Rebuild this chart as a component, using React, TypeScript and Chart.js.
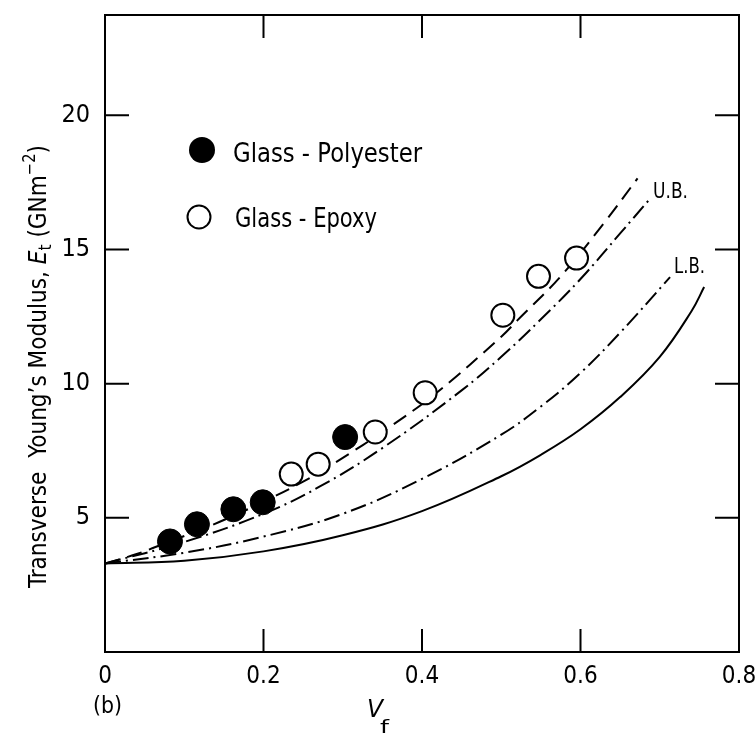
import React, { useEffect, useRef } from 'react';
import { Chart, registerables } from 'chart.js';

Chart.register(...registerables);

// ---- tick values / labels ----
const xTickValues = [0, 0.2, 0.4, 0.6, 0.8];
const xTickLabels = ['0', '0.2', '0.4', '0.6', '0.8'];
const yTickValues = [5, 10, 15, 20];
const yTickLabels = ['5', '10', '15', '20'];

// ---- experimental points ----
const polyesterVf = [0.082, 0.116, 0.162, 0.199, 0.303];
const polyesterEt = [4.12, 4.76, 5.32, 5.58, 8.01];
const epoxyVf = [0.235, 0.269, 0.341, 0.404, 0.502, 0.547, 0.595];
const epoxyEt = [6.63, 7.0, 8.2, 9.66, 12.55, 14.0, 14.68];

// ---- curves ----
const dashedVf = [0, 0.04, 0.08, 0.12, 0.16, 0.2, 0.25, 0.29, 0.36, 0.42, 0.5, 0.52, 0.575, 0.63, 0.672];
const dashedEt = [3.3, 3.65, 4.1, 4.55, 5.05, 5.6, 6.35, 7.05, 8.4, 9.7, 11.75, 12.35, 14.0, 16.0, 17.65];
const upperVf = [0, 0.1, 0.2, 0.27, 0.35, 0.45, 0.5, 0.55, 0.6, 0.65, 0.688];
const upperEt = [3.3, 4.1, 5.15, 6.15, 7.6, 9.75, 11.0, 12.4, 13.9, 15.6, 16.9];
const lowerVf = [0, 0.1, 0.2, 0.3, 0.4, 0.5, 0.55, 0.6, 0.65, 0.713];
const lowerEt = [3.3, 3.7, 4.3, 5.15, 6.45, 8.1, 9.15, 10.4, 11.9, 13.97];
const solidVf = [0, 0.1, 0.2, 0.3, 0.4, 0.5, 0.55, 0.6, 0.65, 0.7, 0.74, 0.756];
const solidEt = [3.3, 3.4, 3.75, 4.35, 5.25, 6.55, 7.35, 8.3, 9.5, 11.0, 12.7, 13.6];

const legendNames = ['Glass - Polyester', 'Glass - Epoxy'];
const boundLabels = ['U.B.', 'L.B.'];

const toPts = (xs: number[], ys: number[]) => xs.map((x, i) => ({ x, y: ys[i] }));

function pickFont(): string {
  const c = document.createElement('canvas').getContext('2d')!;
  const test = 'Glass Polyester Epoxy 0123456789';
  const cands = ['Liberation Sans Narrow', 'DejaVu Sans Condensed', 'Roboto Condensed', 'Open Sans Condensed'];
  for (const f of cands) {
    c.font = '40px monospace';
    const w1 = c.measureText(test).width;
    c.font = `40px "${f}", monospace`;
    const w2 = c.measureText(test).width;
    c.font = '40px serif';
    const w3 = c.measureText(test).width;
    c.font = `40px "${f}", serif`;
    const w4 = c.measureText(test).width;
    if (w1 !== w2 && w3 !== w4) return `"${f}"`;
  }
  return 'Roboto';
}

const zeroPad = (s: any) => {
  s.paddingTop = 0;
  s.paddingBottom = 0;
  s.paddingLeft = 0;
  s.paddingRight = 0;
};

export default function App() {
  const ref = useRef<HTMLCanvasElement>(null);

  useEffect(() => {
    const fam = pickFont();

    const fitText = (ctx: CanvasRenderingContext2D, text: string, x: number, y: number, w: number, font: string) => {
      ctx.font = font;
      const m = ctx.measureText(text).width;
      ctx.save();
      ctx.translate(x, y);
      ctx.scale(w / m, 1);
      ctx.fillText(text, 0, 0);
      ctx.restore();
    };

    const decor = {
      id: 'decor',
      afterDraw(chart: any) {
        const { ctx, chartArea: a, scales } = chart;
        const xs = scales.x;
        const ys = scales.y;
        ctx.save();
        ctx.strokeStyle = '#000';
        ctx.fillStyle = '#000';
        ctx.lineWidth = 2;
        // frame
        ctx.strokeRect(a.left, a.top, a.right - a.left, a.bottom - a.top);
        // inward ticks
        ctx.beginPath();
        for (const v of xTickValues) {
          if (v <= xs.min || v >= xs.max) continue;
          const px = xs.getPixelForValue(v);
          ctx.moveTo(px, a.bottom);
          ctx.lineTo(px, a.bottom - 23);
          ctx.moveTo(px, a.top);
          ctx.lineTo(px, a.top + 23);
        }
        for (const v of yTickValues) {
          const py = ys.getPixelForValue(v);
          ctx.moveTo(a.left, py);
          ctx.lineTo(a.left + 24, py);
          ctx.moveTo(a.right, py);
          ctx.lineTo(a.right - 24, py);
        }
        ctx.stroke();

        // legend
        ctx.beginPath();
        ctx.arc(202, 150, 13, 0, Math.PI * 2);
        ctx.fill();
        ctx.beginPath();
        ctx.arc(199, 217, 11.5, 0, Math.PI * 2);
        ctx.fillStyle = '#fff';
        ctx.fill();
        ctx.stroke();
        ctx.fillStyle = '#000';
        ctx.textAlign = 'left';
        ctx.textBaseline = 'alphabetic';
        fitText(ctx, legendNames[0], 233, 162, 189, `26px ${fam}`);
        fitText(ctx, legendNames[1], 235, 227, 142, `26px ${fam}`);

        // curve labels
        fitText(ctx, boundLabels[0], 653, 198, 35, `22px ${fam}`);
        fitText(ctx, boundLabels[1], 674, 273, 31, `22px ${fam}`);

        // panel label and x title
        fitText(ctx, '(b)', 93, 713, 29, `23px ${fam}`);
        fitText(ctx, 'V', 367, 717, 16, `italic 25px ${fam}`);
        fitText(ctx, 'f', 380, 733, 9, `18px ${fam}`);

        // y title (rotated)
        const parts = [
          { t: 'Transverse  Young\u2019s Modulus, ', f: `25px ${fam}`, dy: 0 },
          { t: 'E', f: `italic 25px ${fam}`, dy: 0 },
          { t: 't', f: `18px ${fam}`, dy: 5 },
          { t: ' (GNm', f: `25px ${fam}`, dy: 0 },
          { t: '\u22122', f: `17px ${fam}`, dy: -11 },
          { t: ')', f: `25px ${fam}`, dy: 0 },
        ];
        let total = 0;
        const widths = parts.map((p) => {
          ctx.font = p.f;
          const w = ctx.measureText(p.t).width;
          total += w;
          return w;
        });
        const s = 443 / total;
        ctx.save();
        ctx.translate(46, 588);
        ctx.rotate(-Math.PI / 2);
        ctx.scale(s, 1);
        let u = 0;
        parts.forEach((p, i) => {
          ctx.font = p.f;
          ctx.fillText(p.t, u, p.dy);
          u += widths[i];
        });
        ctx.restore();
        ctx.restore();
      },
    };

    const lineDs = (label: string, xs: number[], ys: number[], dash: number[]) => ({
      type: 'line' as const,
      label,
      data: toPts(xs, ys),
      borderColor: '#000',
      borderWidth: 2,
      borderDash: dash,
      pointRadius: 0,
      fill: false,
      tension: 0.4,
      order: 2,
    });

    const chart = new Chart(ref.current!, {
      type: 'scatter',
      data: {
        datasets: [
          {
            label: legendNames[0],
            data: toPts(polyesterVf, polyesterEt),
            backgroundColor: '#000',
            borderColor: '#000',
            borderWidth: 1,
            pointRadius: 12.5,
            order: 0,
          } as any,
          {
            label: legendNames[1],
            data: toPts(epoxyVf, epoxyEt),
            backgroundColor: '#fff',
            borderColor: '#000',
            borderWidth: 2,
            pointRadius: 11.5,
            order: 1,
          } as any,
          lineDs('dashed', dashedVf, dashedEt, [15, 8]),
          lineDs('U.B.', upperVf, upperEt, [16, 5, 2, 5]),
          lineDs('L.B.', lowerVf, lowerEt, [16, 5, 2, 5]),
          lineDs('solid', solidVf, solidEt, []),
        ],
      },
      plugins: [decor],
      options: {
        animation: false,
        responsive: true,
        maintainAspectRatio: false,
        layout: { autoPadding: false, padding: { left: 0, right: 16, top: 15, bottom: 0 } },
        plugins: { legend: { display: false }, tooltip: { enabled: false } },
        scales: {
          x: {
            type: 'linear',
            min: 0,
            max: 0.8,
            afterBuildTicks: (s: any) => {
              s.ticks = xTickValues.map((v) => ({ value: v }));
            },
            afterFit: (s: any) => {
              s.height = 93;
              zeroPad(s);
            },
            ticks: {
              callback: (_v: any, i: number) => xTickLabels[i],
              font: { family: fam, size: 24 },
              color: '#000',
              padding: 10,
              maxRotation: 0,
              autoSkip: false,
            },
            grid: { display: false, drawTicks: false },
            border: { display: false },
          },
          y: {
            type: 'linear',
            min: 0,
            max: 23.74,
            afterBuildTicks: (s: any) => {
              s.ticks = yTickValues.map((v) => ({ value: v }));
            },
            afterFit: (s: any) => {
              s.width = 105;
              zeroPad(s);
            },
            ticks: {
              callback: (_v: any, i: number) => yTickLabels[i],
              font: { family: fam, size: 25 },
              color: '#000',
              padding: 15,
              autoSkip: false,
            },
            grid: { display: false, drawTicks: false },
            border: { display: false },
          },
        },
      } as any,
    });
    return () => chart.destroy();
  }, []);

  return (
    <div style={{ position: 'fixed', left: 0, top: 0, width: 755, height: 745, background: '#fff' }}>
      <canvas ref={ref} />
    </div>
  );
}
